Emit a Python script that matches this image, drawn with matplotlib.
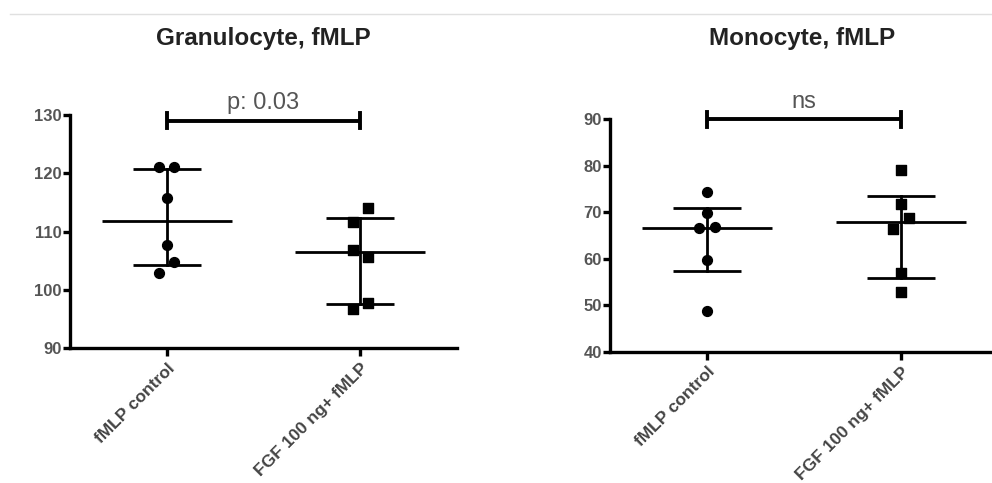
import matplotlib
matplotlib.use('Agg')
import matplotlib.pyplot as plt
from matplotlib.lines import Line2D

plt.rcParams['font.family'] = ['Liberation Sans', 'DejaVu Sans']

# data
groups = ['fMLP control', 'FGF 100 ng+ fMLP']

gran_ctrl = [121, 121, 115.7, 107.7, 104.8, 102.8]
gran_ctrl_x = [-0.04, 0.04, 0, 0, 0.04, -0.04]
gran_fgf = [114.0, 111.7, 106.8, 105.6, 97.8, 96.7]
gran_fgf_x = [0.04, -0.04, -0.04, 0.04, 0.04, -0.04]
gran_mean = [111.8, 106.4]
gran_lo = [104.3, 97.6]
gran_hi = [120.8, 112.3]

mono_ctrl = [74.3, 69.9, 66.6, 66.8, 59.7, 48.8]
mono_ctrl_x = [0, 0, -0.04, 0.04, 0, 0]
mono_fgf = [79.0, 71.7, 68.8, 66.5, 57.0, 52.9]
mono_fgf_x = [0, 0, 0.04, -0.04, 0, 0]
mono_mean = [66.6, 67.8]
mono_lo = [57.3, 55.9]
mono_hi = [71.0, 73.5]

fig = plt.figure(figsize=(9.92, 4.83), dpi=100)
fig.add_artist(Line2D([0.01, 1.0], [1 - 14 / 483, 1 - 14 / 483], color='#e0e0e0', lw=1))


def panel(rect, title, title_x, ctrl, ctrl_dx, fgf, fgf_dx, mean, lo, hi, ylim, yticks, sig, sig_y, cap, right):
    ax = fig.add_axes(rect)
    ax.set_xlim(0.5, right)
    ax.set_ylim(*ylim)
    for i in range(2):
        c = i + 1
        ax.plot([c - 0.335, c + 0.335], [mean[i]] * 2, color='black', lw=2, solid_capstyle='butt', zorder=2)
        ax.plot([c, c], [lo[i], hi[i]], color='black', lw=2, zorder=2)
        ax.plot([c - 0.175, c + 0.175], [lo[i]] * 2, color='black', lw=2, solid_capstyle='butt', zorder=2)
        ax.plot([c - 0.175, c + 0.175], [hi[i]] * 2, color='black', lw=2, solid_capstyle='butt', zorder=2)
    ax.scatter([1 + d for d in ctrl_dx], ctrl, marker='o', s=50, color='black', zorder=3, clip_on=False)
    ax.scatter([2 + d for d in fgf_dx], fgf, marker='s', s=55, color='black', zorder=3, clip_on=False)
    # significance bar
    ax.plot([1, 2], [sig_y, sig_y], color='black', lw=2.8, clip_on=False, solid_capstyle='butt')
    ax.plot([1, 1], [sig_y - cap, sig_y + cap], color='black', lw=2.8, clip_on=False)
    ax.plot([2, 2], [sig_y - cap, sig_y + cap], color='black', lw=2.8, clip_on=False)
    ax.text(1.5, sig_y + cap * 0.9, sig, ha='center', va='bottom', fontsize=17, color='#555555')
    for s in ['top', 'right']:
        ax.spines[s].set_visible(False)
    for s in ['left', 'bottom']:
        ax.spines[s].set_linewidth(2.4)
    ax.set_yticks(yticks)
    ax.set_xticks([1, 2])
    ax.set_xticklabels(groups, rotation=45, ha='right', rotation_mode='anchor',
                       fontsize=12.5, fontweight='bold', color='#444444')
    ax.tick_params(axis='y', length=5, width=2.4, labelsize=12, labelcolor='#555555', pad=1)
    ax.tick_params(axis='x', length=6, width=2.4, pad=3)
    for t in ax.get_yticklabels():
        t.set_fontweight('bold')
    fig.text(title_x, 1 - 39 / 483, title, ha='center', va='center', fontsize=17.5, fontweight='bold', color='#222222')
    return ax


panel([70 / 992, 1 - 348 / 483, 387 / 992, 233 / 483], 'Granulocyte, fMLP', 263 / 992,
      gran_ctrl, gran_ctrl_x, gran_fgf, gran_fgf_x, gran_mean, gran_lo, gran_hi,
      (90, 130), [90, 100, 110, 120, 130], 'p: 0.03', 129.0, 1.3, 2.5)

panel([610 / 992, 1 - 351.7 / 483, 382 / 992, 232.4 / 483], 'Monocyte, fMLP', 802 / 992,
      mono_ctrl, mono_ctrl_x, mono_fgf, mono_fgf_x, mono_mean, mono_lo, mono_hi,
      (40, 90), [40, 50, 60, 70, 80, 90], 'ns', 90.0, 1.6, 2.469)

fig.savefig('out.png', dpi=100)
